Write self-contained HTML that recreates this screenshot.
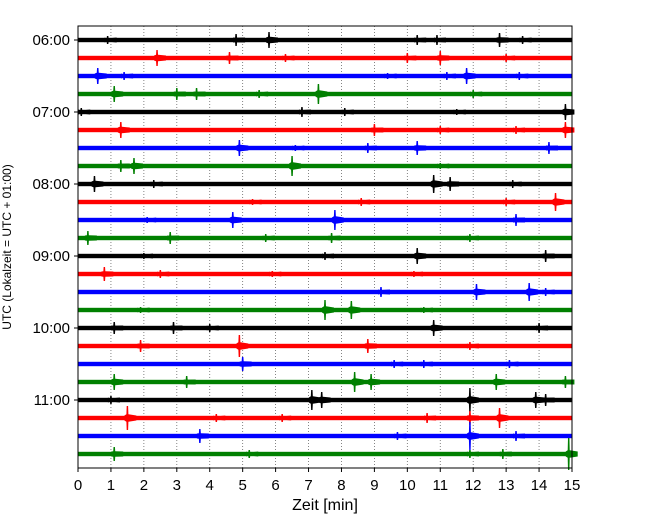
<!DOCTYPE html>
<html><head><meta charset="utf-8"><style>
body{margin:0;background:#fff}
svg text{font-family:"Liberation Sans","DejaVu Sans",sans-serif;fill:#000}
</style></head><body>
<svg id="c" width="650" height="520">
<rect width="650" height="520" fill="#fff"/>
<g id="grid"></g>
<g id="traces"></g>
<rect x="78" y="26" width="494" height="442" fill="none" stroke="#000" stroke-width="1"/>
<g id="axes"></g>
<text x="325" y="510" text-anchor="middle" font-size="16">Zeit  [min]</text>
<text transform="translate(11,247) rotate(-90)" text-anchor="middle" font-size="12">UTC (Lokalzeit = UTC + 01:00)</text>
</svg>
<script>
const xTicks=[0,1,2,3,4,5,6,7,8,9,10,11,12,13,14,15];
const yTickLabels=["06:00","07:00","08:00","09:00","10:00","11:00"];
const yTickRows=[0,4,8,12,16,20];
const colors=["#000","#f00","#00f","#008000"];
const rowCount=24;
// events per trace: [minute, amplitude(px)]
const events=[
[[0.9,4],[4.8,6],[5.8,8],[10.3,5],[10.9,5],[12.8,7],[13.5,4]],
[[2.4,8],[4.6,6],[6.3,4],[10.0,5],[11.0,7],[13.0,4]],
[[0.6,8],[1.4,4],[9.4,3],[11.2,4],[11.8,8],[13.4,4]],
[[1.1,8],[3.0,6],[3.6,6],[5.5,4],[7.3,10],[12.0,4]],
[[0.1,4],[6.8,5],[8.1,4],[11.5,3],[14.8,8]],
[[1.3,8],[9.0,6],[11.0,4],[13.3,4],[14.8,8]],
[[4.9,8],[6.6,3],[8.8,5],[10.3,7],[14.3,6]],
[[1.3,6],[1.7,8],[6.5,10],[11.0,3]],
[[0.5,8],[2.3,4],[10.8,9],[11.3,7],[13.2,4]],
[[5.3,3],[8.6,4],[13.0,4],[14.5,9]],
[[2.1,3],[4.7,8],[7.8,10],[13.3,6]],
[[0.3,7],[2.8,6],[5.7,4],[7.7,5],[11.9,4]],
[[2.0,3],[7.5,4],[10.3,8],[14.2,6]],
[[0.8,7],[2.5,4],[5.9,3],[10.2,3]],
[[9.2,5],[12.1,8],[13.7,9],[14.2,4]],
[[1.9,3],[7.5,10],[8.3,9],[10.5,3]],
[[1.1,6],[2.9,6],[4.0,4],[10.8,8],[14.0,5]],
[[1.9,6],[4.9,11],[8.8,7],[11.9,4]],
[[5.0,7],[9.6,4],[10.5,4],[13.1,4]],
[[1.1,8],[3.3,6],[8.4,10],[8.9,8],[12.7,8],[14.8,6]],
[[1.0,4],[7.1,10],[7.4,8],[11.9,12],[13.9,8],[14.2,6]],
[[1.5,12],[4.2,4],[6.2,4],[10.6,5],[11.9,7],[12.8,10]],
[[3.7,7],[9.7,4],[11.9,14],[13.3,5]],
[[1.1,7],[5.2,4],[11.9,4],[12.9,5],[14.9,16]]
];
const X0=78,X1=572;
const xs=m=>X0+(X1-X0)*m/15;
const ys=r=>40+18*r;
const NS="http://www.w3.org/2000/svg";
function mk(t,a,p){const e=document.createElementNS(NS,t);for(const k in a)e.setAttribute(k,a[k]);p.appendChild(e);return e;}
const grid=document.getElementById('grid'),tr=document.getElementById('traces'),ax=document.getElementById('axes');
xTicks.forEach(m=>{
  if(m>0&&m<15){const g=mk('line',{x1:xs(m),x2:xs(m),y1:26,y2:468,stroke:'#666','stroke-width':0.8,'stroke-dasharray':'1,2'},grid);
  
  }
  const t=mk('line',{x1:xs(m),x2:xs(m),y1:468,y2:472,stroke:'#000'},ax);
  
  
  const l=mk('text',{x:xs(m),y:490,'text-anchor':'middle','font-size':15},ax);l.textContent=m;
  
  
});
yTickRows.forEach((r,i)=>{
  const t=mk('line',{x1:74,x2:78,y1:ys(r),y2:ys(r),stroke:'#000'},ax);
  
  
  const l=mk('text',{x:70,y:ys(r)+5,'text-anchor':'end','font-size':15},ax);l.textContent=yTickLabels[i];
  
  
});
for(let r=0;r<rowCount;r++){
  const c=colors[r%4],y=ys(r);
  const b=mk('rect',{x:X0,y:y-2.2,width:X1-X0,height:4.4,fill:c},tr);
  
  
  events[r].forEach(([m,a])=>{
    const x=xs(m);
    const h=Math.min(a*0.4,3.8);
    const p=mk('path',{d:`M${x-0.7},${y-a} L${x+0.7},${y-a} L${x+1},${y-h} L${x+9},${y-2.5} L${x+9},${y+2.5} L${x+1},${y+h} L${x+0.7},${y+a} L${x-0.7},${y+a} L${x-1},${y+h} L${x-3},${y+2.5} L${x-3},${y-2.5} L${x-1},${y-h} Z`,fill:c},tr);
    
    
  });
}
</script>
</body></html>
